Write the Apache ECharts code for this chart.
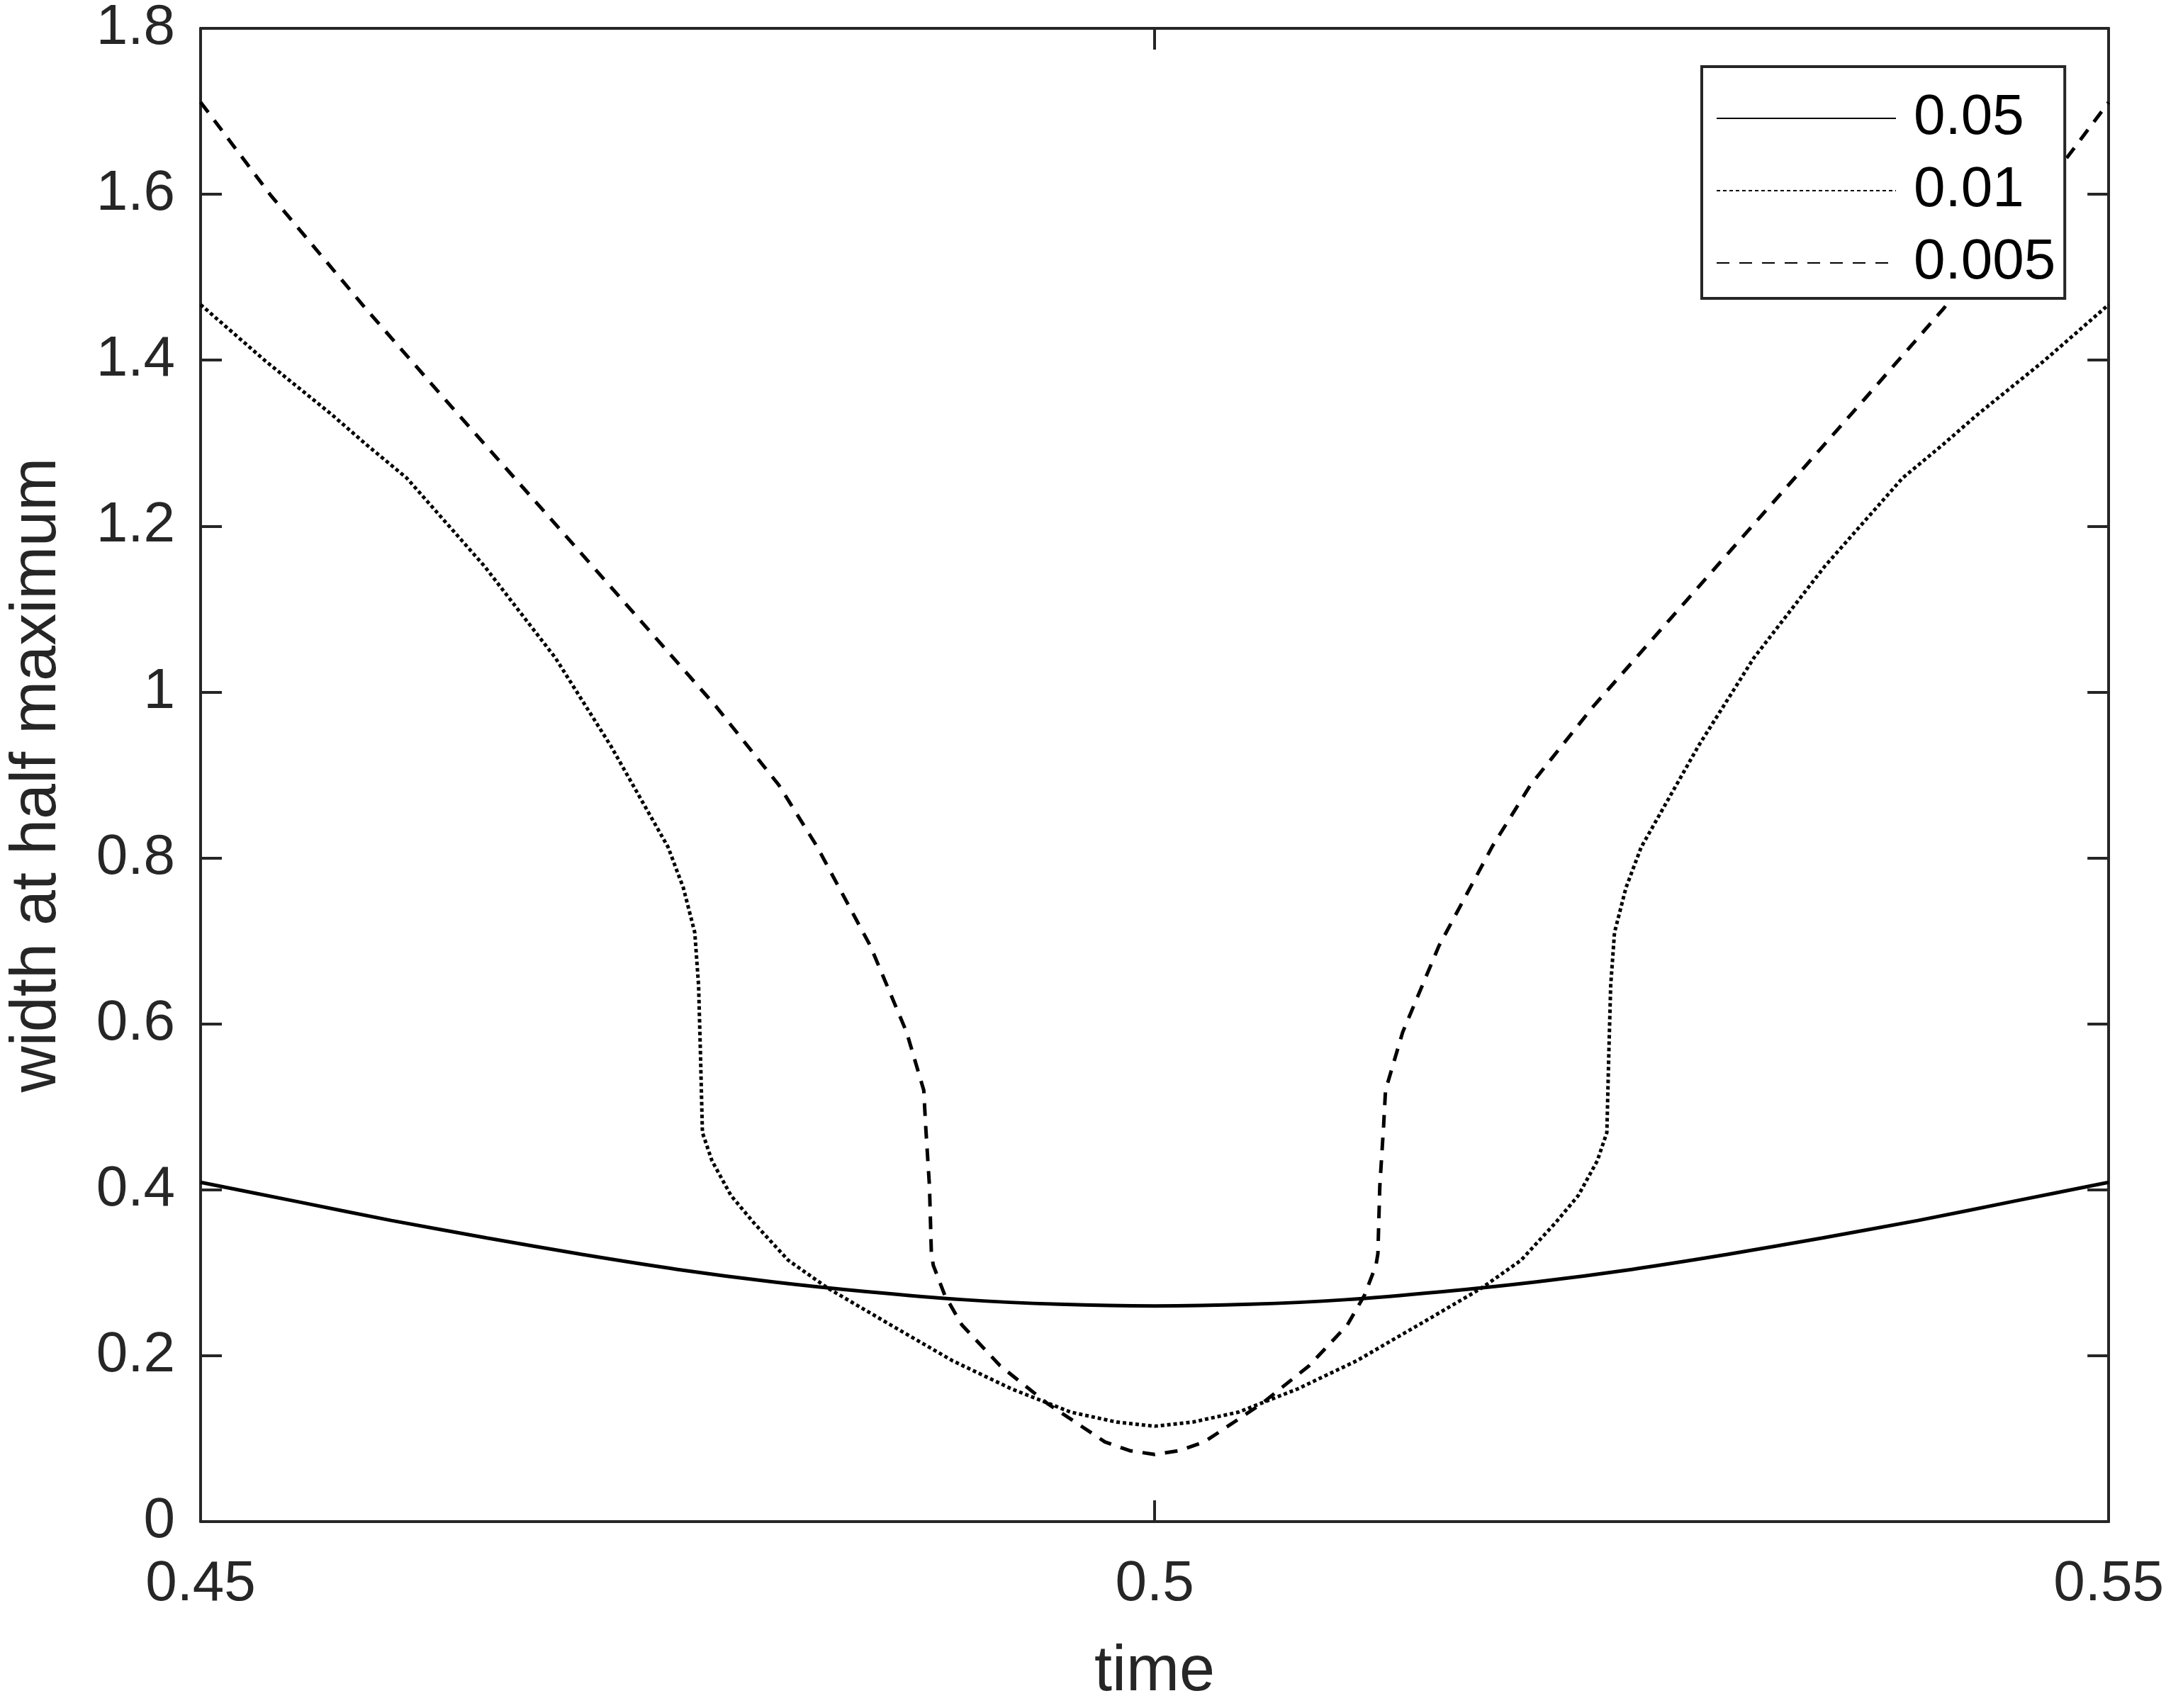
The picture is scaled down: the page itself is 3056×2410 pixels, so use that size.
<!DOCTYPE html>
<html>
<head>
<meta charset="utf-8">
<script src="https://cdn.jsdelivr.net/npm/echarts@6/dist/echarts.min.js"></script>
<style>
html,body{margin:0;padding:0;background:#fff;}
#chart{width:3056px;height:2410px;}
</style>
</head>
<body>
<div id="chart"></div>
<script>
// Legend names
var seriesNames = ['0.05', '0.01', '0.005'];

// Axis ticks
var xTicks = [0.45, 0.5, 0.55];
var yTicks = [0, 0.2, 0.4, 0.6, 0.8, 1, 1.2, 1.4, 1.6, 1.8];

// eps = 0.05 (solid)
var data005 = [
  [0.45, 0.409], [0.455, 0.386], [0.46, 0.363], [0.465, 0.342], [0.47, 0.322],
  [0.475, 0.304], [0.48, 0.289], [0.485, 0.277], [0.49, 0.2675], [0.495, 0.262],
  [0.5, 0.260],
  [0.505, 0.262], [0.51, 0.2675], [0.515, 0.277], [0.52, 0.289], [0.525, 0.304],
  [0.53, 0.322], [0.535, 0.342], [0.54, 0.363], [0.545, 0.386], [0.55, 0.409]
];

// eps = 0.01 (dotted)
var data001 = [
  [0.45, 1.467], [0.4534, 1.399], [0.4569, 1.334], [0.4587, 1.298], [0.4608, 1.258],
  [0.4649, 1.151], [0.4686, 1.041], [0.4715, 0.935], [0.4745, 0.813], [0.4753, 0.764],
  [0.4759, 0.710], [0.4761, 0.646], [0.4762, 0.562], [0.4763, 0.469], [0.4768, 0.435],
  [0.4778, 0.393], [0.4790, 0.360], [0.4808, 0.315], [0.4829, 0.281], [0.4858, 0.242],
  [0.4894, 0.194], [0.4925, 0.160], [0.4956, 0.132], [0.4980, 0.120], [0.5, 0.115],
  [0.5020, 0.120], [0.5044, 0.132], [0.5075, 0.160], [0.5106, 0.194], [0.5142, 0.242],
  [0.5171, 0.281], [0.5192, 0.315], [0.5210, 0.360], [0.5222, 0.393], [0.5232, 0.435],
  [0.5237, 0.469], [0.5238, 0.562], [0.5239, 0.646], [0.5241, 0.710], [0.5247, 0.764],
  [0.5255, 0.813], [0.5285, 0.935], [0.5314, 1.041], [0.5351, 1.151], [0.5392, 1.258],
  [0.5413, 1.298], [0.5431, 1.334], [0.5466, 1.399], [0.55, 1.467]
];

// eps = 0.005 (dashed)
var data0005 = [
  [0.45, 1.711], [0.4537, 1.598], [0.4587, 1.461], [0.4628, 1.353], [0.4698, 1.171],
  [0.4770, 0.983], [0.4803, 0.888], [0.4823, 0.814], [0.4851, 0.694], [0.4870, 0.590],
  [0.4879, 0.520], [0.4880, 0.477], [0.4882, 0.404], [0.4883, 0.323], [0.4884, 0.309],
  [0.4890, 0.273], [0.4899, 0.237], [0.4919, 0.188], [0.4944, 0.142], [0.4974, 0.096],
  [0.4987, 0.0855], [0.5, 0.081], [0.5013, 0.0855],
  [0.5026, 0.096], [0.5056, 0.142], [0.5081, 0.188], [0.5101, 0.237], [0.5110, 0.273],
  [0.5116, 0.309], [0.5117, 0.323], [0.5118, 0.404], [0.5120, 0.477], [0.5121, 0.520],
  [0.5130, 0.590], [0.5149, 0.694], [0.5177, 0.814], [0.5197, 0.888], [0.5230, 0.983],
  [0.5302, 1.171], [0.5372, 1.353], [0.5413, 1.461], [0.5463, 1.598], [0.55, 1.711]
];

var axisColor = '#262626';
var font = 'Liberation Sans, Arial, Helvetica, sans-serif';

function fmt(v) { return String(Math.round(v * 100) / 100); }

var chart = echarts.init(document.getElementById('chart'), null, {renderer: 'canvas'});

var baseX = {
  type: 'value', min: xTicks[0], max: xTicks[xTicks.length - 1], interval: 0.05,
  axisLine: {show: true, onZero: false, lineStyle: {color: axisColor, width: 4}},
  axisTick: {show: true, inside: true, length: 30, lineStyle: {color: axisColor, width: 4}},
  splitLine: {show: false}
};
var baseY = {
  type: 'value', min: yTicks[0], max: yTicks[yTicks.length - 1], interval: 0.2,
  axisLine: {show: true, onZero: false, lineStyle: {color: axisColor, width: 4}},
  axisTick: {show: true, inside: true, length: 30, lineStyle: {color: axisColor, width: 4}},
  splitLine: {show: false}
};

var option = {
  animation: false,
  backgroundColor: '#ffffff',
  grid: {left: 263, top: 29, width: 2714, height: 2138, containLabel: false},
  legend: {
    orient: 'vertical',
    left: 2401, top: 94,
    data: seriesNames,
    itemWidth: 253, itemHeight: 80, itemGap: 22,
    padding: [33, 13, 10, 20],
    borderColor: axisColor, borderWidth: 4,
    backgroundColor: '#ffffff',
    itemStyle: {opacity: 0, borderWidth: 0},
    textStyle: {fontSize: 80, color: '#000000', fontFamily: font, padding: [0, 0, 0, 20]}
  },
  xAxis: [
    Object.assign({}, baseX, {
      position: 'bottom',
      name: 'time', nameLocation: 'middle', nameGap: 168,
      nameTextStyle: {fontSize: 90, color: axisColor, fontFamily: font},
      axisLabel: {show: true, margin: 49, fontSize: 80, color: axisColor, fontFamily: font, formatter: fmt}
    }),
    Object.assign({}, baseX, {position: 'top', axisLabel: {show: false}})
  ],
  yAxis: [
    Object.assign({}, baseY, {
      position: 'left',
      name: 'width at half maximum', nameLocation: 'middle', nameGap: 185, nameRotate: 90,
      nameTextStyle: {fontSize: 90, color: axisColor, fontFamily: font},
      axisLabel: {show: true, margin: 36, fontSize: 80, color: axisColor, fontFamily: font, formatter: fmt}
    }),
    Object.assign({}, baseY, {position: 'right', axisLabel: {show: false}})
  ],
  series: [
    {
      name: seriesNames[0], type: 'line', xAxisIndex: 0, yAxisIndex: 0,
      data: data005, showSymbol: false, symbol: 'none', smooth: 0.3,
      lineStyle: {color: '#000000', width: 5, type: 'solid'},
      itemStyle: {color: '#000000'}
    },
    {
      name: seriesNames[1], type: 'line', xAxisIndex: 0, yAxisIndex: 0,
      data: data001, showSymbol: false, symbol: 'none', smooth: false,
      lineStyle: {color: '#000000', width: 5, type: [5, 4], cap: 'butt'},
      itemStyle: {color: '#000000'}
    },
    {
      name: seriesNames[2], type: 'line', xAxisIndex: 0, yAxisIndex: 0,
      data: data0005, showSymbol: false, symbol: 'none', smooth: false,
      lineStyle: {color: '#000000', width: 5, type: [18, 14], cap: 'butt'},
      itemStyle: {color: '#000000'}
    }
  ]
};
chart.setOption(option);
</script>
</body>
</html>
